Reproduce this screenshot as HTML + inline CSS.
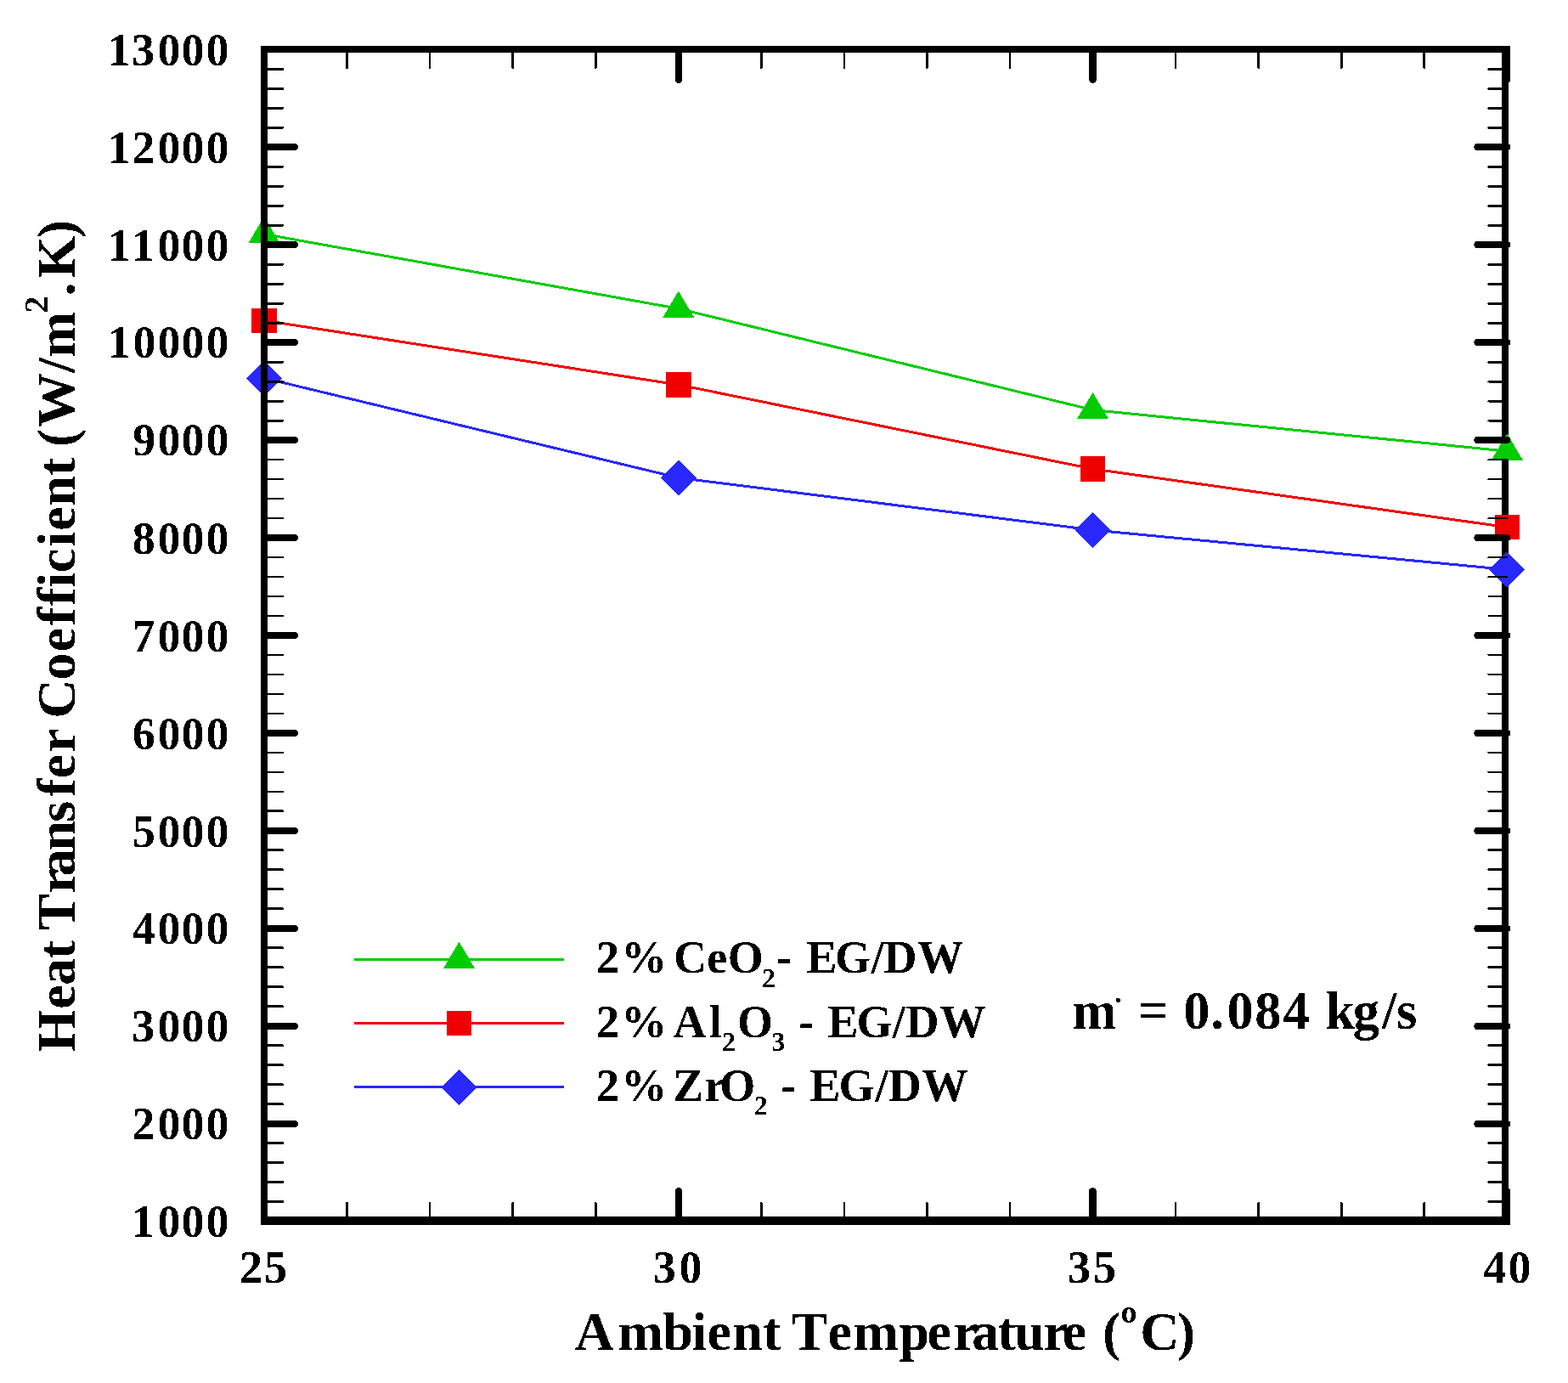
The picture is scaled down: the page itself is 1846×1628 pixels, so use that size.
<!DOCTYPE html>
<html lang="en"><head><meta charset="utf-8"><title>Heat Transfer Coefficient vs Ambient Temperature</title>
<style>html,body{margin:0;padding:0;background:#fff}body{width:1846px;height:1628px;overflow:hidden}svg{display:block}text{font-family:"Liberation Serif", "DejaVu Serif", serif;font-weight:bold;fill:#000;white-space:pre;filter:url(#hard)}</style></head><body>
<svg width="1846" height="1628" viewBox="0 0 1846 1628" role="img" aria-label="Heat transfer coefficient versus ambient temperature">
<rect x="0" y="0" width="1846" height="1628" fill="#fff"/>
<defs><filter id="hard" x="-5%" y="-5%" width="110%" height="110%" color-interpolation-filters="sRGB"><feComponentTransfer><feFuncA type="discrete" tableValues="0 1"/></feComponentTransfer></filter></defs>
<g shape-rendering="crispEdges" fill="#000">
<rect x="1768" y="54" width="8" height="1388"/>
</g>
<g fill="none" stroke-width="3" stroke-linecap="round" stroke-linejoin="round" shape-rendering="crispEdges">
<polyline points="311,275.6 798.77,363.3 1286.53,482.6 1774.3,531.1" stroke="#00cc00"/>
<polyline points="311,377.3 798.77,452.9 1286.53,552 1774.3,620.6" stroke="#f00000"/>
<polyline points="311,445.1 798.77,562.4 1286.53,623.9 1774.3,670.5" stroke="#2828ff"/>
<line x1="418.5" y1="1129.4" x2="662.5" y2="1129.4" stroke="#00cc00"/>
<line x1="418.5" y1="1204.6" x2="662.5" y2="1204.6" stroke="#f00000"/>
<line x1="418.5" y1="1279.6" x2="662.5" y2="1279.6" stroke="#2828ff"/>
</g>
<g shape-rendering="crispEdges">
<polygon points="311,254.8 329.5,286 292.5,286" fill="#00cc00"/>
<polygon points="798.77,342.5 817.27,373.7 780.27,373.7" fill="#00cc00"/>
<polygon points="1286.53,461.8 1305.03,493 1268.03,493" fill="#00cc00"/>
<polygon points="1774.3,510.3 1792.8,541.5 1755.8,541.5" fill="#00cc00"/>
<polygon points="296.2,362.5 325.8,362.5 325.8,392.1 296.2,392.1" fill="#f00000"/>
<polygon points="783.97,438.1 813.57,438.1 813.57,467.7 783.97,467.7" fill="#f00000"/>
<polygon points="1271.73,537.2 1301.33,537.2 1301.33,566.8 1271.73,566.8" fill="#f00000"/>
<polygon points="1759.5,605.8 1789.1,605.8 1789.1,635.4 1759.5,635.4" fill="#f00000"/>
<polygon points="311,424.1 332,445.1 311,466.1 290,445.1" fill="#2828ff"/>
<polygon points="798.77,541.4 819.77,562.4 798.77,583.4 777.77,562.4" fill="#2828ff"/>
<polygon points="1286.53,602.9 1307.53,623.9 1286.53,644.9 1265.53,623.9" fill="#2828ff"/>
<polygon points="1774.3,649.5 1795.3,670.5 1774.3,691.5 1753.3,670.5" fill="#2828ff"/>
<polygon points="540.5,1108.6 559,1139.8 522,1139.8" fill="#00cc00"/>
<polygon points="525.7,1189.8 555.3,1189.8 555.3,1219.4 525.7,1219.4" fill="#f00000"/>
<polygon points="540.5,1258.6 561.5,1279.6 540.5,1300.6 519.5,1279.6" fill="#2828ff"/>
</g>
<g shape-rendering="crispEdges" fill="#000">
<rect x="307" y="54" width="8" height="1388"/>
<rect x="307" y="54" width="1471" height="8"/>
<rect x="307" y="1432" width="1471" height="10"/>
</g>
<g stroke="#000" fill="none" stroke-linecap="round" shape-rendering="crispEdges">
<path stroke-width="8" d="M311 58H347M1774.3 58H1739.3M311 173H347M1774.3 173H1739.3M311 288H347M1774.3 288H1739.3M311 403H347M1774.3 403H1739.3M311 518H347M1774.3 518H1739.3M311 633H347M1774.3 633H1739.3M311 748H347M1774.3 748H1739.3M311 863H347M1774.3 863H1739.3M311 978H347M1774.3 978H1739.3M311 1093H347M1774.3 1093H1739.3M311 1208H347M1774.3 1208H1739.3M311 1323H347M1774.3 1323H1739.3M311 1438H347M1774.3 1438H1739.3M311 58V94M311 1438V1402M799 58V94M799 1438V1402M1774 58V94M1774 1438V1402"/>
<path stroke-width="9" d="M1286.5 59V93.5M1286.5 1437V1402.5"/>
<path stroke-width="2.7" d="M311 81.48H332.6M1774.3 81.48H1752.7M311 104.47H332.6M1774.3 104.47H1752.7M311 127.45H332.6M1774.3 127.45H1752.7M311 150.43H332.6M1774.3 150.43H1752.7M311 196.4H332.6M1774.3 196.4H1752.7M311 219.38H332.6M1774.3 219.38H1752.7M311 242.36H332.6M1774.3 242.36H1752.7M311 265.35H332.6M1774.3 265.35H1752.7M311 311.31H332.6M1774.3 311.31H1752.7M311 334.3H332.6M1774.3 334.3H1752.7M311 357.28H332.6M1774.3 357.28H1752.7M311 380.26H332.6M1774.3 380.26H1752.7M311 426.23H332.6M1774.3 426.23H1752.7M311 449.21H332.6M1774.3 449.21H1752.7M311 472.19H332.6M1774.3 472.19H1752.7M311 495.18H332.6M1774.3 495.18H1752.7M311 541.14H332.6M1774.3 541.14H1752.7M311 564.13H332.6M1774.3 564.13H1752.7M311 587.11H332.6M1774.3 587.11H1752.7M311 610.09H332.6M1774.3 610.09H1752.7M311 656.06H332.6M1774.3 656.06H1752.7M311 679.04H332.6M1774.3 679.04H1752.7M311 702.02H332.6M1774.3 702.02H1752.7M311 725.01H332.6M1774.3 725.01H1752.7M311 770.97H332.6M1774.3 770.97H1752.7M311 793.96H332.6M1774.3 793.96H1752.7M311 816.94H332.6M1774.3 816.94H1752.7M311 839.92H332.6M1774.3 839.92H1752.7M311 885.89H332.6M1774.3 885.89H1752.7M311 908.87H332.6M1774.3 908.87H1752.7M311 931.85H332.6M1774.3 931.85H1752.7M311 954.84H332.6M1774.3 954.84H1752.7M311 1000.8H332.6M1774.3 1000.8H1752.7M311 1023.79H332.6M1774.3 1023.79H1752.7M311 1046.77H332.6M1774.3 1046.77H1752.7M311 1069.75H332.6M1774.3 1069.75H1752.7M311 1115.72H332.6M1774.3 1115.72H1752.7M311 1138.7H332.6M1774.3 1138.7H1752.7M311 1161.68H332.6M1774.3 1161.68H1752.7M311 1184.67H332.6M1774.3 1184.67H1752.7M311 1230.63H332.6M1774.3 1230.63H1752.7M311 1253.62H332.6M1774.3 1253.62H1752.7M311 1276.6H332.6M1774.3 1276.6H1752.7M311 1299.58H332.6M1774.3 1299.58H1752.7M311 1345.55H332.6M1774.3 1345.55H1752.7M311 1368.53H332.6M1774.3 1368.53H1752.7M311 1391.51H332.6M1774.3 1391.51H1752.7M311 1414.5H332.6M1774.3 1414.5H1752.7M408.55 58V79.6M408.55 1438V1416.4M506.11 58V79.6M506.11 1438V1416.4M603.66 58V79.6M603.66 1438V1416.4M701.21 58V79.6M701.21 1438V1416.4M896.32 58V79.6M896.32 1438V1416.4M993.87 58V79.6M993.87 1438V1416.4M1091.43 58V79.6M1091.43 1438V1416.4M1188.98 58V79.6M1188.98 1438V1416.4M1384.09 58V79.6M1384.09 1438V1416.4M1481.64 58V79.6M1481.64 1438V1416.4M1579.19 58V79.6M1579.19 1438V1416.4M1676.75 58V79.6M1676.75 1438V1416.4"/>
</g>
<g>
<text x="126.69 154.91 185.45 213.5 242.5" y="77" font-size="54">13000</text>
<text x="126.69 155.18 185.45 213.5 242.5" y="192" font-size="54">12000</text>
<text x="126.69 154.66 185.45 213.5 242.5" y="307" font-size="54">11000</text>
<text x="126.69 156.45 185.45 213.5 242.5" y="421" font-size="54">10000</text>
<text x="156.19 185.45 213.5 242.5" y="536" font-size="54">9000</text>
<text x="155.8 185.45 213.5 242.5" y="652" font-size="54">8000</text>
<text x="155.57 185.45 213.5 242.5" y="767" font-size="54">7000</text>
<text x="155.77 185.45 213.5 242.5" y="882" font-size="54">6000</text>
<text x="155.81 185.45 213.5 242.5" y="997" font-size="54">5000</text>
<text x="156.03 185.45 213.5 242.5" y="1111" font-size="54">4000</text>
<text x="154.91 185.45 213.5 242.5" y="1226" font-size="54">3000</text>
<text x="155.18 185.45 213.5 242.5" y="1341" font-size="54">2000</text>
<text x="154.66 185.45 213.5 242.5" y="1456" font-size="54">1000</text>
<text x="282 310.91" y="1510" font-size="54">25</text>
<text x="768.81 799.48" y="1510" font-size="54">30</text>
<text x="1256.88 1286.91" y="1510" font-size="54">35</text>
<text x="1746.13 1775.53" y="1510" font-size="54">40</text>
</g>
<text font-size="64"><tspan x="676.86 727.53 780.59 814.47 832.38 862.28 898.07 919.38 931.84 974.53 1004.38 1058.49 1091.48 1122.38 1144.25 1174.47 1194.33 1228.48 1250.78 1279.19 1298.07" y="1589">Ambient Temperature (</tspan><tspan x="1319.6" y="1557" font-size="38">o</tspan><tspan x="1342.37 1385.72" y="1589">C)</tspan></text>
<g transform="translate(88 1240) rotate(-90)">
<text font-size="64"><tspan x="1.64 52.13 80.25 111.47 132.78 144.94 188.38 208.5 238.78 272.36 302.13 323.83 354.18 382.58 394.17 439.45 472.81 503.83 526.93 548.59 565.8 596.59 615.33 644.28 679.82 701.13 714.09 737.29 801.04 819.43" y="0">Heat Transfer Coefficient (W/m</tspan><tspan x="871.79" y="-32" font-size="39.5">2</tspan><tspan x="891.4 912.56 959.82" y="0">.K)</tspan></text>
</g>
<text font-size="54"><tspan x="701.88 731.32 785.32 793.09 832.29 856.85" y="1145">2% CeO</tspan><tspan x="897.07" y="1162" font-size="32">2</tspan><tspan x="914.31 932.29 949.46 982.92 1025.69 1040.45 1080.34" y="1145">- EG/DW</tspan></text>
<text font-size="54"><tspan x="701.88 731.32 785.32 792.49 834.83" y="1220.8">2% Al</tspan><tspan x="850.02" y="1237" font-size="32">2</tspan><tspan x="868.05" y="1220.8">O</tspan><tspan x="908.15" y="1237" font-size="32">3</tspan><tspan x="0 940.41 958.39 974.56 1008.42 1050.74 1066.4 1106.59" y="1220.8"> - EG/DW</tspan></text>
<text font-size="54"><tspan x="701.88 731.32 785.32 792.17 829.45 847.25" y="1295.8">2% ZrO</tspan><tspan x="887.87" y="1312" font-size="32">2</tspan><tspan x="0 919.41 937.39 953.51 987.57 1030.39 1045.65 1085.54" y="1295.8"> - EG/DW</tspan></text>
<text font-size="62.5"><tspan x="1262.16" y="1211">m</tspan><tspan x="1312.32" y="1180" font-size="33">.</tspan><tspan x="0 1340.31 1375.93 1393.28 1425.14 1444.42 1477.32 1510.48 1541.73 1560.34 1592.86 1627.05 1644.06" y="1211"> = 0.084 kg/s</tspan></text>
</svg></body></html>
